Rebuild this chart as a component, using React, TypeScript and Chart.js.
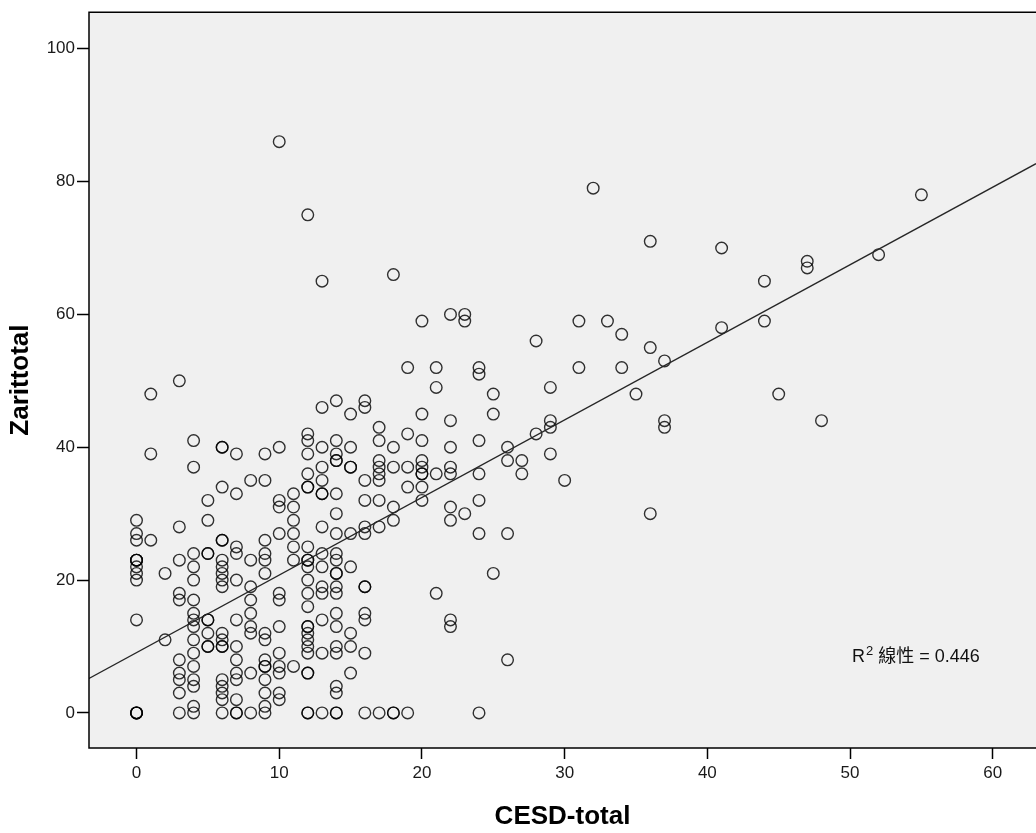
import { useEffect, useRef } from "react";
import { Chart, registerables } from "chart.js";

Chart.register(...registerables);

// CESD-total values (x) and the Zarittotal values (y) observed at each of them
const cesdLevels = [0, 1, 2, 3, 4, 5, 6, 7, 8, 9, 10, 11, 12, 13, 14, 15, 16, 17, 18, 19, 20, 21, 22, 23, 24, 25, 26, 27, 28, 29, 30, 31, 32, 33, 34, 35, 36, 37, 41, 44, 45, 47, 48, 52, 55];
const zaritAtLevel = [
  [29, 27, 26, 23, 23, 23, 22, 21, 20, 14, 0, 0, 0, 0],
  [48, 39, 26],
  [21, 11],
  [50, 28, 23, 18, 17, 8, 6, 5, 3, 0],
  [41, 37, 24, 22, 20, 17, 15, 14, 13, 11, 9, 7, 5, 4, 1, 0],
  [32, 29, 24, 24, 14, 14, 12, 10, 10],
  [40, 40, 34, 26, 26, 23, 22, 21, 20, 19, 12, 11, 10, 10, 5, 4, 3, 2, 0],
  [39, 33, 25, 24, 20, 14, 10, 8, 6, 5, 2, 0, 0],
  [35, 23, 19, 17, 15, 13, 12, 6, 0],
  [39, 35, 26, 24, 23, 21, 12, 11, 8, 7, 7, 5, 3, 1, 0],
  [86, 40, 32, 31, 27, 18, 17, 13, 9, 7, 6, 3, 2],
  [33, 31, 29, 27, 25, 23, 7],
  [75, 42, 41, 39, 36, 34, 34, 25, 23, 23, 22, 20, 18, 16, 13, 13, 12, 11, 10, 9, 6, 6, 0, 0],
  [65, 46, 40, 37, 35, 33, 33, 28, 24, 22, 19, 18, 14, 9, 0],
  [47, 41, 39, 38, 38, 33, 30, 27, 24, 23, 21, 21, 19, 18, 15, 13, 10, 9, 4, 3, 0, 0],
  [45, 40, 37, 37, 27, 22, 12, 10, 6],
  [47, 46, 35, 32, 28, 27, 19, 19, 15, 14, 9, 0],
  [43, 41, 38, 37, 36, 35, 32, 28, 0],
  [66, 40, 37, 31, 29, 0, 0],
  [52, 42, 37, 34, 0],
  [59, 45, 41, 38, 37, 36, 36, 34, 32],
  [52, 49, 36, 18],
  [60, 44, 40, 37, 36, 31, 29, 14, 13],
  [60, 59, 30],
  [52, 51, 41, 36, 32, 27, 0],
  [48, 45, 21],
  [40, 38, 27, 8],
  [38, 36],
  [56, 42],
  [49, 44, 43, 39],
  [35],
  [59, 52],
  [79],
  [59],
  [57, 52],
  [48],
  [71, 55, 30],
  [53, 44, 43],
  [70, 58],
  [65, 59],
  [48],
  [68, 67],
  [44],
  [69],
  [78],
];

const xTickValues = [0, 10, 20, 30, 40, 50, 60];
const yTickValues = [0, 20, 40, 60, 80, 100];
const xRange = [-3.33, 63.03];
const yRange = [-5.28, 105.5];
const fitLineX = [-3.33, 63.03];
const fitLineY = [5.2, 82.7];
const rSquaredValue = "0.446";

const FONT = '"Liberation Sans", Arial, sans-serif';

const plotFrame = {
  id: "plotFrame",
  beforeDraw(chart: any) {
    const { ctx, chartArea } = chart;
    const { left, top, right, bottom } = chartArea;
    ctx.save();
    ctx.fillStyle = "#ffffff";
    ctx.fillRect(0, 0, chart.width, chart.height);
    ctx.fillStyle = "#f0f0f0";
    ctx.fillRect(left, top, right - left, bottom - top);
    ctx.restore();
  },
  afterDraw(chart: any) {
    const { ctx, chartArea } = chart;
    const { left, top, right, bottom } = chartArea;
    ctx.save();
    ctx.strokeStyle = "#000";
    ctx.lineWidth = 1.5;
    ctx.beginPath();
    ctx.moveTo(right + 2, top);
    ctx.lineTo(left, top);
    ctx.lineTo(left, bottom);
    ctx.lineTo(right + 2, bottom);
    ctx.stroke();

    // R² annotation
    const x0 = 852;
    const base = 662;
    ctx.fillStyle = "#111";
    ctx.textBaseline = "alphabetic";
    ctx.textAlign = "left";
    ctx.font = `18px ${FONT}`;
    ctx.fillText("R", x0, base);
    let x = x0 + ctx.measureText("R").width + 1;
    ctx.font = `13px ${FONT}`;
    ctx.fillText("2", x, base - 7);
    x += ctx.measureText("2").width;
    ctx.font = `18px ${FONT}, "Noto Sans CJK TC"`;
    ctx.fillText(" 線性 = " + rSquaredValue, x, base);
    ctx.restore();
  },
};

export default function App() {
  const ref = useRef<HTMLCanvasElement | null>(null);

  useEffect(() => {
    document.body.style.margin = "0";
    const points: { x: number; y: number }[] = [];
    cesdLevels.forEach((cx, i) => {
      zaritAtLevel[i].forEach((zy) => points.push({ x: cx, y: zy }));
    });
    const fit = fitLineX.map((fx, i) => ({ x: fx, y: fitLineY[i] }));

    const chart = new Chart(ref.current as HTMLCanvasElement, {
      type: "scatter",
      data: {
        datasets: [
          {
            data: fit,
            showLine: true,
            borderColor: "#262626",
            borderWidth: 1.3,
            pointRadius: 0,
            pointHoverRadius: 0,
          } as any,
          {
            data: points,
            pointStyle: "circle",
            pointRadius: 5.8,
            pointBorderWidth: 1.4,
            borderColor: "rgba(0,0,0,0.8)",
            backgroundColor: "rgba(0,0,0,0)",
          } as any,
        ],
      },
      options: {
        responsive: false,
        animation: false,
        devicePixelRatio: 1,
        layout: { autoPadding: false, padding: { top: 10, left: 0, right: 0, bottom: 0 } },
        plugins: {
          legend: { display: false },
          tooltip: { enabled: false },
        },
        scales: {
          x: {
            type: "linear",
            min: xRange[0],
            max: xRange[1],
            afterBuildTicks: (scale: any) => {
              scale.ticks = xTickValues.map((v) => ({ value: v }));
            },
            afterFit: (scale: any) => {
              scale.height = 85;
            },
            grid: {
              drawOnChartArea: false,
              drawTicks: true,
              tickLength: 11,
              tickWidth: 1.5,
              tickColor: "#000",
            },
            border: { display: false },
            ticks: {
              padding: 4,
              color: "#1a1a1a",
              font: { family: FONT, size: 17 },
              maxRotation: 0,
            },
            title: {
              display: true,
              text: "CESD-total",
              color: "#000",
              font: { family: FONT, size: 26, weight: "bold" },
              padding: { top: 0, bottom: 1 },
            },
          },
          y: {
            type: "linear",
            min: yRange[0],
            max: yRange[1],
            afterBuildTicks: (scale: any) => {
              scale.ticks = yTickValues.map((v) => ({ value: v }));
            },
            afterFit: (scale: any) => {
              scale.width = 89;
            },
            grid: {
              drawOnChartArea: false,
              drawTicks: true,
              tickLength: 12,
              tickWidth: 1.5,
              tickColor: "#000",
            },
            border: { display: false },
            ticks: {
              padding: 2,
              color: "#1a1a1a",
              font: { family: FONT, size: 17 },
            },
            title: {
              display: true,
              text: "Zarittotal",
              color: "#000",
              font: { family: FONT, size: 26, weight: "bold" },
              padding: { top: 5, bottom: 0 },
            },
          },
        },
      } as any,
      plugins: [plotFrame],
    });
    return () => chart.destroy();
  }, []);

  return <canvas ref={ref} width={1036} height={833} style={{ display: "block" }} />;
}
